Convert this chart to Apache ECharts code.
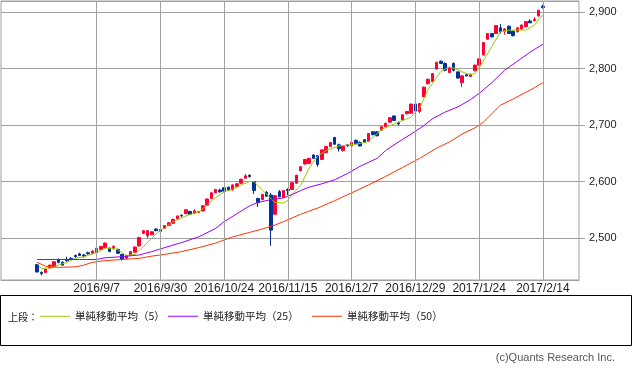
<!DOCTYPE html>
<html><head><meta charset="utf-8">
<script src="https://cdn.jsdelivr.net/npm/echarts@6/dist/echarts.min.js"></script>
<style>html,body{margin:0;padding:0;background:#fff}#c{width:633px;height:368px}</style>
</head><body><div id="c"></div>
<script>
const dates = ['2016/8/18','2016/8/19','2016/8/22','2016/8/23','2016/8/24','2016/8/25','2016/8/26','2016/8/29','2016/8/30','2016/8/31',
'2016/9/1','2016/9/2','2016/9/5','2016/9/6','2016/9/7','2016/9/8','2016/9/9','2016/9/12','2016/9/13','2016/9/14',
'2016/9/15','2016/9/16','2016/9/20','2016/9/21','2016/9/23','2016/9/26','2016/9/27','2016/9/28','2016/9/29','2016/9/30',
'2016/10/3','2016/10/4','2016/10/5','2016/10/6','2016/10/7','2016/10/11','2016/10/12','2016/10/13','2016/10/14','2016/10/17',
'2016/10/18','2016/10/19','2016/10/20','2016/10/21','2016/10/24','2016/10/25','2016/10/26','2016/10/27','2016/10/28','2016/10/31',
'2016/11/1','2016/11/2','2016/11/4','2016/11/7','2016/11/8','2016/11/9','2016/11/10','2016/11/11','2016/11/14','2016/11/15',
'2016/11/16','2016/11/17','2016/11/18','2016/11/21','2016/11/22','2016/11/24','2016/11/25','2016/11/28','2016/11/29','2016/11/30',
'2016/12/1','2016/12/2','2016/12/5','2016/12/6','2016/12/7','2016/12/8','2016/12/9','2016/12/12','2016/12/13','2016/12/14',
'2016/12/15','2016/12/16','2016/12/19','2016/12/20','2016/12/21','2016/12/22','2016/12/26','2016/12/27','2016/12/28','2016/12/29',
'2016/12/30','2017/1/4','2017/1/5','2017/1/6','2017/1/10','2017/1/11','2017/1/12','2017/1/13','2017/1/16','2017/1/17',
'2017/1/18','2017/1/19','2017/1/20','2017/1/23','2017/1/24','2017/1/25','2017/1/26','2017/1/27','2017/1/30','2017/1/31',
'2017/2/1','2017/2/2','2017/2/3','2017/2/6','2017/2/7','2017/2/8','2017/2/9','2017/2/10','2017/2/13','2017/2/14'];

const labelDates = ['2016/9/7','2016/9/30','2016/10/24','2016/11/15','2016/12/7','2016/12/29','2017/1/24','2017/2/14'];

const open = [2453,2439,2439,2447,2449,2461,2457,2462,2464,2469,2472,2470,2474,2473,2474,2480,2483,2482,2481,2480,
2471,2464,2470,2475,2486,2508,2504,2506,2516,2515,2517,2522,2526,2534,2540,2543,2547,2544,2545,2548,
2558,2570,2580,2585,2589,2590,2585,2591,2597,2606,2611,2600,2570,2568,2581,2576,2542,2582,2572,2586,
2586,2597,2619,2631,2632,2647,2646,2639,2651,2662,2678,2665,2655,2665,2663,2673,2669,2674,2671,2688,
2688,2691,2697,2705,2716,2704,2709,2720,2721,2737,2724,2750,2773,2777,2799,2813,2809,2793,2809,2794,
2775,2789,2786,2796,2806,2824,2852,2862,2862,2872,2866,2875,2866,2865,2870,2874,2884,2885,2893,2910];
const close = [2440,2437,2445,2452,2458,2457,2452,2460,2462,2467,2469,2468,2472,2477,2482,2485,2491,2476,2485,2473,
2463,2469,2476,2484,2501,2513,2513,2511,2513,2512,2522,2527,2533,2539,2539,2550,2542,2548,2547,2557,
2569,2580,2586,2582,2583,2585,2594,2596,2604,2610,2609,2584,2563,2577,2574,2514,2575,2573,2584,2584,
2598,2611,2626,2639,2641,2641,2630,2656,2662,2669,2666,2658,2662,2663,2669,2667,2663,2669,2685,2683,
2681,2697,2703,2713,2708,2702,2718,2724,2737,2725,2738,2767,2781,2791,2811,2809,2797,2801,2797,2783,
2787,2787,2790,2806,2817,2846,2862,2856,2876,2865,2870,2862,2858,2872,2877,2883,2881,2887,2903,2908];
const low = [2439,2434,2438,2446,2448,2455,2451,2458,2460,2465,2468,2465,2471,2472,2473,2479,2482,2475,2480,2472,
2460,2463,2469,2474,2485,2507,2499,2505,2512,2511,2516,2521,2525,2533,2537,2542,2541,2543,2544,2547,
2557,2569,2579,2580,2582,2584,2584,2590,2596,2605,2607,2578,2555,2567,2573,2486,2541,2572,2571,2576,
2585,2596,2618,2630,2631,2640,2626,2638,2650,2661,2665,2653,2653,2661,2662,2666,2662,2668,2670,2682,
2680,2690,2696,2704,2707,2699,2708,2719,2720,2724,2721,2749,2772,2776,2798,2808,2795,2792,2795,2782,
2767,2786,2785,2795,2805,2823,2851,2855,2861,2862,2860,2861,2857,2864,2869,2873,2880,2883,2892,2906];
const high = [2454,2441,2446,2453,2459,2464,2459,2467,2466,2471,2474,2472,2476,2478,2483,2486,2492,2483,2487,2481,
2472,2470,2477,2485,2502,2514,2514,2512,2517,2516,2523,2528,2534,2540,2542,2551,2548,2551,2548,2558,
2570,2581,2587,2587,2590,2591,2595,2597,2605,2613,2613,2601,2571,2578,2583,2580,2576,2585,2585,2588,
2599,2612,2627,2640,2642,2648,2647,2657,2663,2670,2679,2667,2663,2666,2670,2674,2671,2675,2686,2689,
2689,2698,2704,2714,2717,2706,2719,2725,2738,2738,2739,2768,2782,2792,2812,2814,2811,2802,2811,2795,
2788,2790,2791,2807,2818,2847,2863,2863,2877,2879,2871,2876,2867,2873,2878,2884,2887,2891,2904,2913];

const ma5 = [['2016/8/18',2455],['2016/8/19',2446],['2016/8/23',2447],['2016/8/25',2452],['2016/8/29',2457],['2016/8/31',2464],
['2016/9/2',2467],['2016/9/7',2474],['2016/9/9',2482],['2016/9/13',2482],['2016/9/14',2479],['2016/9/16',2469],['2016/9/21',2471],
['2016/9/26',2485],['2016/9/28',2500],['2016/9/30',2514],['2016/10/3',2517],['2016/10/5',2529],['2016/10/11',2539],['2016/10/13',2544],
['2016/10/14',2546],['2016/10/18',2558],['2016/10/19',2566],['2016/10/24',2582],['2016/10/26',2586],['2016/10/28',2594],['2016/11/1',2600],
['2016/11/2',2600],['2016/11/7',2585],['2016/11/9',2570],['2016/11/10',2563],['2016/11/14',2562],['2016/11/15',2567],['2016/11/16',2577],
['2016/11/18',2593],['2016/11/22',2624],['2016/11/25',2645],['2016/11/29',2655],['2016/12/2',2663],['2016/12/8',2666],['2016/12/13',2671],
['2016/12/16',2692],['2016/12/21',2702],['2016/12/28',2714],['2016/12/30',2730],['2017/1/5',2763],['2017/1/11',2795],['2017/1/13',2803],
['2017/1/17',2798],['2017/1/18',2794],['2017/1/20',2789],['2017/1/23',2791],['2017/1/24',2801],['2017/1/27',2839],['2017/1/31',2865],
['2017/2/2',2868],['2017/2/8',2868],['2017/2/10',2877],['2017/2/14',2895]];
const ma25 = [['2016/8/18',2462],['2016/8/25',2462],['2016/9/1',2462],['2016/9/7',2462],['2016/9/9',2465],['2016/9/15',2467],
['2016/9/23',2470],['2016/9/28',2476],['2016/10/3',2483],['2016/10/7',2492],['2016/10/14',2502],['2016/10/20',2517],['2016/10/24',2529],
['2016/10/27',2543],['2016/11/1',2557],['2016/11/4',2563],['2016/11/9',2568],['2016/11/14',2571],['2016/11/16',2577],['2016/11/18',2584],
['2016/11/22',2590],['2016/11/28',2596],['2016/12/1',2603],['2016/12/6',2614],['2016/12/9',2627],['2016/12/13',2634],['2016/12/15',2641],
['2016/12/19',2655],['2016/12/22',2670],['2016/12/28',2684],['2017/1/4',2699],['2017/1/6',2711],['2017/1/12',2723],['2017/1/17',2732],
['2017/1/20',2745],['2017/1/24',2756],['2017/1/27',2775],['2017/2/1',2797],['2017/2/6',2813],['2017/2/9',2829],['2017/2/14',2843]];
const ma50 = [['2016/8/18',2457],['2016/8/22',2450],['2016/8/25',2448],['2016/8/31',2449],['2016/9/2',2452],['2016/9/6',2457],
['2016/9/9',2460],['2016/9/15',2462],['2016/9/23',2464],['2016/9/28',2468],['2016/10/3',2471],['2016/10/7',2476],['2016/10/14',2483],
['2016/10/20',2491],['2016/10/26',2502],['2016/11/1',2510],['2016/11/7',2516],['2016/11/10',2523],['2016/11/14',2529],['2016/11/18',2542],
['2016/11/25',2553],['2016/12/1',2566],['2016/12/7',2580],['2016/12/13',2594],['2016/12/19',2609],['2016/12/26',2625],['2016/12/30',2641],
['2017/1/10',2659],['2017/1/13',2670],['2017/1/18',2684],['2017/1/23',2695],['2017/1/25',2705],['2017/1/27',2720],['2017/1/31',2735],
['2017/2/3',2746],['2017/2/8',2758],['2017/2/10',2766],['2017/2/14',2775]];

const seriesNames = ['単純移動平均（5）','単純移動平均（25）','単純移動平均（50）'];
const seriesColors = ['#99cc00','#9900ff','#ff3300'];

const PAD = 8;
const cats = [];
for (let i = 0; i < PAD; i++) cats.push('padL' + i);
dates.forEach(d => cats.push(d));
for (let i = 0; i < PAD; i++) cats.push('padR' + i);
const isLabel = (idx, val) => labelDates.indexOf(val) >= 0;
const candles = dates.map((d, i) => [d, open[i], close[i], low[i], high[i]]);
const labelIdx = labelDates.map(d => cats.indexOf(d));

const GRID = '#a0a0a0';
const chart = echarts.init(document.getElementById('c'), null, {renderer: 'canvas'});
chart.setOption({
  animation: false,
  backgroundColor: '#fff',
  grid: {left: 1, top: 1, right: 54, bottom: 88, show: true, borderColor: GRID, borderWidth: 1, backgroundColor: '#fff'},
  xAxis: {
    type: 'category', data: cats, boundaryGap: true,
    axisLine: {show: true, lineStyle: {color: GRID}},
    axisTick: {show: false},
    axisLabel: {interval: isLabel, margin: 3, fontSize: 12, color: '#222', fontFamily: 'Liberation Sans'},
    splitLine: {show: false}
  },
  yAxis: {
    type: 'value', position: 'right', min: 2425.7, max: 2919.5, splitNumber: 5,
    axisLine: {show: false},
    axisTick: {show: true, length: 6, lineStyle: {color: GRID}},
    axisLabel: {margin: 10, fontSize: 11, color: '#222', fontFamily: 'Liberation Sans', showMinLabel: false, showMaxLabel: false,
      formatter: v => Number(v).toLocaleString('en-US')},
    splitLine: {show: true, lineStyle: {color: GRID, width: 1}}
  },
  title: [
    {text: '上段：', left: 8, top: 312, padding: 0, textStyle: {fontSize: 10, fontWeight: 'normal', color: '#222', fontFamily: 'Noto Sans CJK JP'}},
    {text: '(c)Quants Research Inc.', right: 18, top: 352, padding: 0, textStyle: {fontSize: 11, fontWeight: 'normal', color: '#555', fontFamily: 'Liberation Sans'}}
  ],
  legend: [40, 168, 312].map((lx, k) => ({
    data: [seriesNames[k]], left: lx, top: 311, padding: 0, icon: 'path://M0,0H30V1H0Z', itemWidth: 30, itemHeight: 14, itemGap: 0,
    selectedMode: false, textStyle: {fontSize: 10.5, color: '#222', fontFamily: 'Noto Sans CJK JP'}
  })),
  graphic: [{type: 'rect', shape: {x: 0.5, y: 295.5, width: 631, height: 50}, style: {fill: 'none', stroke: '#000', lineWidth: 1}, silent: true}],
  series: [
    {type: 'candlestick', name: 'price', data: candles, encode: {x: 0, y: [1, 2, 3, 4]}, barWidth: 3, z: 3,
      itemStyle: {color: '#ff0033', color0: '#003399', borderColor: '#ff0033', borderColor0: '#003399', borderWidth: 1},
      markLine: {silent: true, symbol: ['none', 'none'], label: {show: false}, animation: false,
        lineStyle: {color: GRID, type: 'solid', width: 1},
        data: labelIdx.map(i => ({xAxis: i}))}},
    ...[ma5, ma25, ma50].map((d, k) => ({
      type: 'line', name: seriesNames[k], data: d, symbol: 'none', z: 4,
      lineStyle: {color: seriesColors[k], width: 1}, itemStyle: {color: seriesColors[k]}
    }))
  ]
});
</script></body></html>
